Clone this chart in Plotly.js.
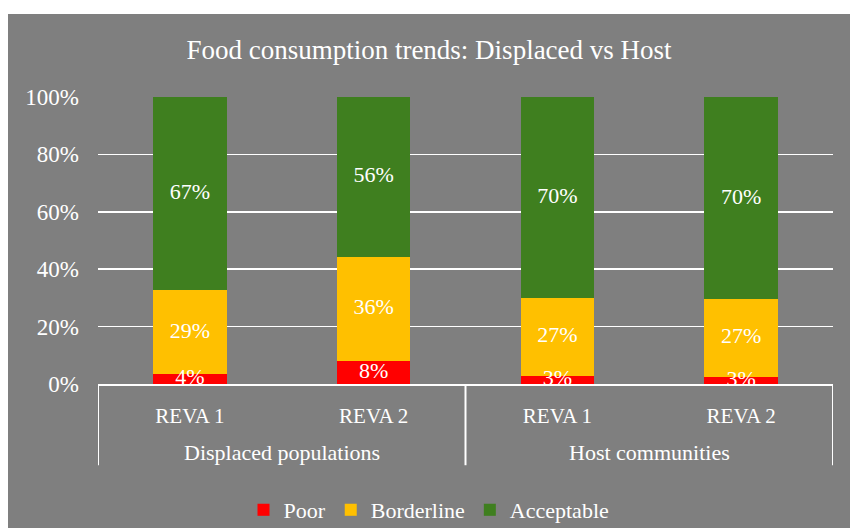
<!DOCTYPE html>
<html><head><meta charset="utf-8">
<script src="https://cdn.plot.ly/plotly-3.0.1.min.js"></script>
<style>
html,body{margin:0;padding:0;background:#fff;}
#chart{position:absolute;left:8px;top:14px;width:842px;height:514px;}
</style></head>
<body><div id="chart"></div>
<script>
const groups = ["Displaced populations","Displaced populations","Host communities","Host communities"];
const rounds = ["REVA 1","REVA 2","REVA 1","REVA 2"];
const poor = [3.6, 8.0, 2.8, 2.6];
const borderline = [29.0, 36.3, 27.2, 27.0];
const acceptable = [67.4, 55.7, 70.0, 70.4];
const seriesNames = ["Poor","Borderline","Acceptable"];
const colors = ["#ff0000","#ffc000","#3f7f1f"];
const yTicks = [0,20,40,60,80,100];

const idx = rounds.map((_, i) => i);
const series = [poor, borderline, acceptable];
const font = "'Liberation Serif', serif";
const traces = [];
const base = idx.map(() => 0);
series.forEach((vals, i) => {
  traces.push({type:'bar', x:idx, y:vals, name:seriesNames[i], marker:{color:colors[i]},
    textposition:'none', hoverinfo:'y'});
});
// labels at segment centres
const lx = [], ly = [], lt = [];
series.forEach((vals) => {
  vals.forEach((v, j) => {
    lx.push(j); ly.push(base[j] + v/2); lt.push(Math.round(v) + '%');
    base[j] += v;
  });
});
traces.push({type:'scatter', mode:'text', x:lx, y:ly, text:lt, showlegend:false,
  textfont:{family:font, size:22, color:'#fff'}, hoverinfo:'skip', cliponaxis:false});

// group spans
const spans = [];
groups.forEach((g, i) => {
  if (!spans.length || spans[spans.length-1].name !== g) spans.push({name:g, start:i, end:i});
  else spans[spans.length-1].end = i;
});
const shapes = [];
const annotations = [];
const divBottom = -0.283;
shapes.push({type:'line', xref:'x', yref:'paper', x0:-0.5, x1:-0.5, y0:0, y1:divBottom, line:{color:'#fff', width:2}});
spans.forEach(s => {
  shapes.push({type:'line', xref:'x', yref:'paper', x0:s.end+0.5, x1:s.end+0.5, y0:0, y1:divBottom, line:{color:'#fff', width:2}});
  annotations.push({xref:'x', yref:'paper', x:(s.start+s.end)/2, y:-0.237, yanchor:'middle', xanchor:'center',
    text:s.name, showarrow:false, font:{family:font, size:22, color:'#fff'}});
});

const layout = {
  width:842, height:514,
  paper_bgcolor:'#7f7f7f', plot_bgcolor:'#7f7f7f',
  margin:{l:90, r:17, t:83, b:144},
  barmode:'stack', bargap:0.6,
  title:{text:'Food consumption trends: Displaced vs Host', font:{family:font, size:27, color:'#fff'}, x:0.5, xanchor:'center', y:0.93, yanchor:'middle'},
  xaxis:{type:'linear', range:[-0.5, idx.length-0.5], automargin:false, showgrid:false, zeroline:false,
    showline:true, linecolor:'#fff', linewidth:2, tickvals:idx, ticktext:rounds,
    tickfont:{family:font, size:21, color:'#fff'}, ticks:'', ticklabelstandoff:12},
  yaxis:{range:[0,100], automargin:false, tickvals:yTicks, ticktext:yTicks.map(v => v + '%'),
    showgrid:true, gridcolor:'#fff', gridwidth:1.5, zeroline:false, showline:false,
    tickfont:{family:font, size:23, color:'#fff'}, ticklabelstandoff:18},
  shapes:shapes, annotations:annotations,
  legend:{orientation:'h', traceorder:'normal', x:0.5, xanchor:'center', xref:'container', yref:'container', y:0.035, yanchor:'middle',
    font:{family:font, size:22, color:'#fff'}, bgcolor:'rgba(0,0,0,0)'},
  showlegend:true
};
Plotly.newPlot('chart', traces, layout, {displayModeBar:false, staticPlot:true});
</script></body></html>
